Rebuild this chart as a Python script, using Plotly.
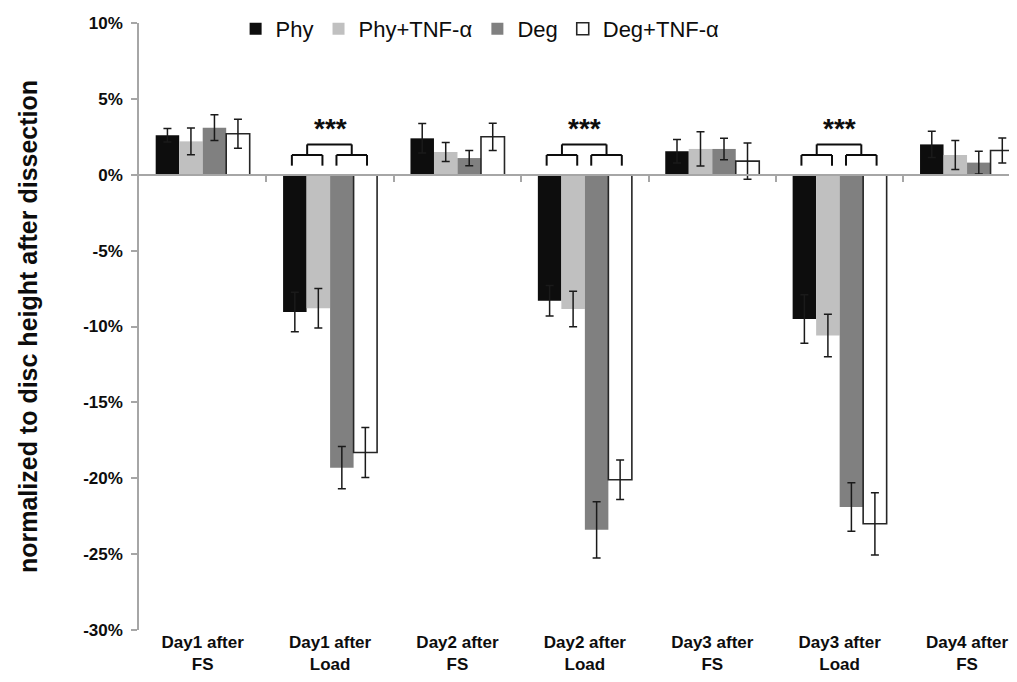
import plotly.graph_objects as go

categories = ["Day1 after<br>FS", "Day1 after<br>Load", "Day2 after<br>FS", "Day2 after<br>Load",
              "Day3 after<br>FS", "Day3 after<br>Load", "Day4 after<br>FS"]
series_names = ["Phy", "Phy+TNF-α", "Deg", "Deg+TNF-α"]

phy = [2.6, -9.05, 2.4, -8.3, 1.55, -9.5, 2.0]
phy_err = [0.45, 1.3, 0.97, 1.0, 0.77, 1.6, 0.86]
phy_tnf = [2.2, -8.8, 1.5, -8.85, 1.7, -10.6, 1.3]
phy_tnf_err = [0.88, 1.3, 0.62, 1.17, 1.13, 1.4, 0.95]
deg = [3.1, -19.3, 1.1, -23.4, 1.7, -21.9, 0.8]
deg_err = [0.85, 1.4, 0.5, 1.85, 0.71, 1.6, 0.75]
deg_tnf = [2.7, -18.3, 2.5, -20.1, 0.9, -23.0, 1.6]
deg_tnf_err = [0.95, 1.65, 0.9, 1.3, 1.2, 2.05, 0.82]

y_ticks = [10, 5, 0, -5, -10, -15, -20, -25, -30]
y_tick_labels = ["10%", "5%", "0%", "-5%", "-10%", "-15%", "-20%", "-25%", "-30%"]
sig_groups = [1, 3, 5]
sig_label = "***"

fills = ["#0d0d0d", "#c0c0c0", "#808080", "#ffffff"]
edges = ["#0d0d0d", "#c0c0c0", "#808080", "#262626"]
edge_w = [0, 0, 0, 1.6]
values = [phy, phy_tnf, deg, deg_tnf]
errors = [phy_err, phy_tnf_err, deg_err, deg_tnf_err]

fig = go.Figure()
for name, v, e, f, ec, ew in zip(series_names, values, errors, fills, edges, edge_w):
    fig.add_trace(go.Bar(
        x=categories, y=v, name=name,
        marker=dict(color=f, line=dict(color=ec, width=ew)),
        error_y=dict(type="data", array=e, visible=True, color="#1a1a1a", thickness=1.5, width=4),
    ))

# helper trace for the zero-line axis with category boundary ticks
fig.add_trace(go.Scatter(x=[None], y=[None], xaxis="x2", showlegend=False, hoverinfo="skip"))

shapes = []
annos = []
lw = dict(color="#0d0d0d", width=2)
for i in sig_groups:
    b, t, c = 0.6, 1.3, 2.0
    for (xa, xb) in [(i - 0.30, i - 0.06), (i + 0.05, i + 0.29)]:
        shapes.append(dict(type="line", xref="x", yref="y", x0=xa, x1=xa, y0=b, y1=t, line=lw))
        shapes.append(dict(type="line", xref="x", yref="y", x0=xa, x1=xb, y0=t, y1=t, line=lw))
        shapes.append(dict(type="line", xref="x", yref="y", x0=xb, x1=xb, y0=b, y1=t, line=lw))
    xl, xr = i - 0.18, i + 0.17
    shapes.append(dict(type="line", xref="x", yref="y", x0=xl, x1=xl, y0=t, y1=c, line=lw))
    shapes.append(dict(type="line", xref="x", yref="y", x0=xl, x1=xr, y0=c, y1=c, line=lw))
    shapes.append(dict(type="line", xref="x", yref="y", x0=xr, x1=xr, y0=t, y1=c, line=lw))
    annos.append(dict(x=i, y=c, xref="x", yref="y", text=sig_label, showarrow=False,
                      yanchor="bottom", yshift=-2,
                      font=dict(family="Liberation Sans, Arial", size=28, color="#0d0d0d", weight="bold")))

fig.update_layout(
    width=1017, height=682,
    margin=dict(l=131, r=0, t=14, b=60),
    paper_bgcolor="white", plot_bgcolor="white",
    barmode="group", bargap=0.262, bargroupgap=0,
    font=dict(family="Liberation Sans, Arial", color="#0d0d0d"),
    shapes=shapes, annotations=annos,
    legend=dict(orientation="h", x=0.385, xanchor="center", y=0.99, yanchor="middle",
                font=dict(size=22, family="Liberation Sans, Arial"), bgcolor="rgba(0,0,0,0)",
                itemwidth=30, traceorder="normal"),
    xaxis=dict(type="category", range=[-0.5, 6.455], showline=False, ticks="", showgrid=False,
               zeroline=False,
               tickfont=dict(family="Liberation Sans, Arial", size=17,
                             weight="bold", color="#0d0d0d")),
    xaxis2=dict(overlaying="x", anchor="free", position=0.75, range=[-0.5, 6.455], type="linear",
                tickmode="array", tickvals=[0.5, 1.5, 2.5, 3.5, 4.5, 5.5], ticks="outside", ticklen=6,
                tickcolor="#a6a6a6", tickwidth=1.5, showline=True, linecolor="#a6a6a6", linewidth=1.5,
                showticklabels=False, showgrid=False, zeroline=False),
    yaxis=dict(range=[-30, 10], tickmode="array", tickvals=y_ticks, ticktext=y_tick_labels,
               showline=True, linecolor="#a6a6a6", linewidth=1.5, ticks="outside", ticklen=6,
               tickcolor="#a6a6a6", tickwidth=1.5, showgrid=False, zeroline=False,
               ticklabelstandoff=5,
               tickfont=dict(size=17, weight="bold", color="#0d0d0d"),
               title=dict(text="normalized to disc height after dissection", standoff=38,
                          font=dict(size=25, weight="bold", color="#0d0d0d"))),
)

fig.write_html("out.html")
